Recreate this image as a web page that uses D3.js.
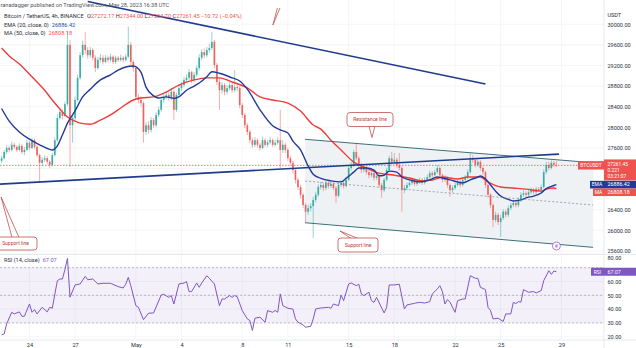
<!DOCTYPE html>
<html>
<head>
<meta charset="utf-8">
<script src="https://cdn.jsdelivr.net/npm/d3@7"></script>
<style>
  html, body { margin: 0; padding: 0; background: #fff; }
  svg { display: block; font-family: Roboto, "Open Sans", sans-serif; }
</style>
</head>
<body>
<svg id="chart" width="636" height="348"></svg>
<script>
// ---------- BTC/USDT 4h bars (first bar opens 22 Apr 2023 04:00 UTC) ----------
const barStart = Date.UTC(2023, 3, 22, 4);
const barMs = 4 * 3600 * 1000;
const firstOpen = 27350;

const closes = [
  27400,27520,27600,27560,27660,27620,27560,27640,27520,27560,
  27700,27600,27750,27620,27460,27310,27370,27400,27330,27270,
  27460,27750,28180,28300,28220,28450,29600,28040,28180,28530,
  28960,29400,29600,29500,29400,29500,29350,29150,29310,29350,
  29270,29350,29310,29370,29270,29350,29310,29350,29310,29370,
  29600,29270,29150,28590,28530,28470,27910,28040,27950,28140,
  28040,28240,28340,28530,28590,28630,28570,28690,28340,28630,
  28760,28820,28920,28960,29070,28920,29020,29150,29350,29460,
  29400,29500,29540,29660,29210,28880,28720,28820,28690,28760,
  28820,28720,28780,28760,28430,28240,28040,27910,27750,27660,
  27750,27660,27600,27750,27660,27710,27750,27660,27700,27750,
  27560,27660,27560,27400,27310,27170,26980,26840,26690,26490,
  26360,26430,26470,26590,26690,26840,26880,26820,26920,26860,
  26900,26820,26670,26880,26920,26860,26980,27210,27270,27520,
  27400,27270,27170,27210,27130,27070,27110,27020,27050,26880,
  26780,26980,27170,27400,27330,27370,27270,27210,26780,26820,
  26880,26920,26980,26900,26940,26980,26920,26980,27030,27110,
  27070,27130,27210,27070,26980,27020,26880,26780,26820,26880,
  26940,26880,26980,27020,27130,27400,27370,27270,27330,27210,
  27130,26880,26690,26490,26200,26300,26160,26240,26360,26300,
  26430,26490,26530,26490,26590,26690,26720,26690,26740,26780,
  26740,26800,26780,26840,27130,27270,27210,27310,27272.17,27261.45
];
const highs = [
  27450,27560,27650,27640,27720,27700,27650,27690,27680,27620,
  27760,27730,27800,27780,27650,27490,27420,27460,27440,27360,
  27500,27800,28250,28380,28350,28500,29870,29700,28260,28600,
  29020,29460,29680,29850,29560,29560,29540,29400,29370,29420,
  29400,29400,29390,29430,29400,29390,29380,29410,29380,29420,
  29960,29660,29300,29180,28650,28600,28500,28100,28120,28200,
  28180,28290,28400,28600,28660,28700,28680,28760,28720,28680,
  28840,28880,28980,29030,29130,29100,29080,29200,29420,29520,
  29530,29560,29620,29850,29700,29250,28950,28880,28860,28820,
  28880,28860,29110,28830,28800,28470,28280,28080,27950,27790,
  27810,27790,27700,27820,27790,27760,27820,27780,27760,27800,
  28340,27750,27700,27600,27450,27350,27200,27020,26880,26730,
  26530,26500,26530,26650,26750,26890,26940,26920,26970,26960,
  26950,26940,26860,26930,26980,26960,27040,27260,27330,27560,
  27700,27440,27310,27270,27250,27170,27160,27150,27100,27080,
  26920,27020,27220,27450,27520,27500,27410,27500,27250,26880,
  26930,26970,27030,27010,26990,27020,27010,27030,27080,27160,
  27150,27180,27270,27240,27100,27070,27050,26910,26870,26930,
  26990,26970,27030,27070,27180,27500,27460,27400,27380,27360,
  27240,27160,26910,26720,26520,26360,26340,26300,26410,26400,
  26480,26540,26580,26570,26640,26740,26780,26760,26790,26830,
  26820,26850,26840,26890,27180,27330,27330,27360,27350,27344.00
];
const lows = [
  27300,27370,27480,27510,27530,27580,27520,27530,27480,27460,
  27540,27560,27580,27580,27420,26940,27250,27330,27280,27210,
  27240,27430,27720,28150,28150,28200,28420,27230,27700,28120,
  28500,28920,29350,29420,29330,29350,29300,29070,29120,29260,
  29220,29240,29260,29280,29230,29230,29270,29280,29260,29280,
  29340,29200,29080,28530,28470,28400,27700,27850,27880,27900,
  27990,28000,28200,28300,28480,28540,28520,28530,28140,28300,
  28600,28700,28780,28870,28920,28850,28880,28980,29100,29300,
  29340,29360,29450,29500,29150,28820,28340,28650,28620,28640,
  28720,28670,28680,28700,28370,28180,27980,27850,27690,27600,
  27620,27610,27550,27570,27620,27610,27670,27620,27630,27660,
  27210,27500,27500,27350,27260,27100,26910,26780,26620,26430,
  26140,26300,26370,25850,26540,26650,26790,26760,26780,26810,
  26820,26780,26530,26640,26840,26810,26830,26950,27160,27230,
  27360,27220,27110,27120,27080,27010,27030,26970,26980,26830,
  26630,26740,26950,27130,27280,27290,27220,27160,26360,26720,
  26770,26840,26880,26860,26860,26900,26880,26890,26950,27000,
  27020,27040,27100,27020,26930,26940,26830,26650,26730,26790,
  26850,26830,26850,26940,26990,27100,27310,27220,27230,27160,
  27070,26830,26630,26430,26060,26150,26100,25870,26200,26250,
  26260,26390,26450,26440,26450,26550,26650,26640,26650,26700,
  26700,26700,26740,26740,26810,27090,27160,27180,27230,27224.70
];

// EMA(20) and MA(50) read at bar positions
const emaBars = [0,3,7,11,15,19,20,22,24,26,29,32,35,39,43,46,49,52,55,57,
  60,62,65,68,70,73,76,78,81,83,86,91,94,97,102,107,110,113,115,118,
  121,123,126,130,134,136,139,141,144,147,149,151,153,156,158,161,165,169,172,174,
  177,180,182,185,188,189,191,193,195,197,200,202,205,207,210,213,215,218,219];
const emaValues = [28365,28120,27910,27770,27660,27570,27560,27640,27850,28080,
  28320,28590,28740,28920,29020,29110,29170,29190,29070,28780,
  28610,28570,28590,28560,28590,28720,28800,28860,28980,29080,
  29050,28960,28900,28740,28340,28030,27950,27890,27730,27560,
  27250,27090,27010,26960,26940,27010,27130,27210,27210,27170,
  27060,27070,27150,27130,27035,26980,26940,26980,27035,27015,
  26980,26940,26920,26980,27035,27055,26995,26880,26760,26665,
  26600,26570,26590,26630,26665,26725,26810,26870,26886.42];
const maBars = [0,3,7,12,17,20,23,26,29,31,35,39,43,47,52,55,60,65,70,76,
  81,86,91,97,102,107,113,118,123,126,130,134,139,144,149,155,161,166,170,174,
  180,184,189,192,197,202,207,213,215,218,219];
const maValues = [29540,29385,29230,28980,28720,28530,28355,28200,28120,28080,
  28060,28140,28240,28375,28530,28570,28590,28685,28820,28920,
  28960,28960,28880,28765,28590,28530,28470,28315,28045,27965,
  27750,27560,27325,27210,27110,27070,27015,26960,26975,27035,
  26995,27035,27035,26940,26840,26820,26800,26760,26800,26820,26808.18];

// RSI(14)
const rsiBars = [0,1,2,4,5,7,8,9,11,12,13,14,16,18,19,20,22,23,24,25,
  26,27,29,31,33,34,36,38,40,43,46,48,49,50,51,53,54,56,58,60,
  63,64,66,67,68,70,72,73,74,75,77,78,79,81,82,84,86,87,88,90,
  91,92,93,95,97,98,99,100,102,104,105,107,108,109,110,111,113,115,116,117,
  119,120,122,123,124,126,129,130,131,133,134,135,137,138,140,141,142,143,145,146,
  147,148,151,152,153,155,157,159,160,163,165,167,169,170,172,173,174,175,176,177,
  179,180,182,183,185,187,188,189,191,192,193,194,196,198,199,201,202,203,204,205,
  206,208,210,211,213,214,216,217,218,219];
const rsiValues = [21.3,22,29.3,37.7,36.5,38,34.8,34.8,43.7,37.7,
  39.6,36.5,41.3,38,41.3,40.6,60.6,61.8,61.8,68.6,
  76.7,48.6,57.5,58.2,63.7,61.3,61.8,58.2,58.7,58.7,
  56.3,55.3,58,63,57,42.5,41.3,32.4,37,37.2,
  50.2,50.7,48.5,49.8,43.7,58.2,58.9,59.9,52.7,52.7,
  58.9,55.8,58.9,64.2,62.3,58.2,42.5,47.3,47.3,49.8,
  48.5,49.8,49,38.9,32.9,31.7,24.5,33.4,34.1,30.5,
  38.9,37.7,39,37.7,51,42.5,40.6,40,32.9,30.5,
  28.5,26.9,27.5,32.9,40.1,40.8,41.3,40.6,43.7,42.5,
  50.2,46.1,58.2,58.9,57,58,51,49.8,52.2,46.1,
  44.9,48.5,37.2,41.3,57.5,57.5,58,40.1,43,44.2,
  44.9,44.4,45.4,51,54.6,57,52.7,43.7,46.9,45,
  37.7,46.1,47.3,47.3,64.2,62.3,62.3,55.8,54.1,41.3,
  38.9,32.9,33.4,31,36.5,36.5,44.9,44,45.4,45,
  54.1,52.2,52.7,51.7,53.4,60.6,67.8,65.2,67.6,67.07];

// axis ticks
const priceTicks = [25600,26000,26400,26800,27200,27600,28000,28400,28800,29200,29600,30000];
const priceLabels = [25600,26000,26400,27600,28000,28400,28800,29200,29600,30000];
const rsiTicks = [20,30,40,50,60,70,80];
const rsiLabels = [20,30,40,50,60,80];
const rsiGuides = [70,50,30];
const dateTicks = [Date.UTC(2023,3,24),Date.UTC(2023,3,27),Date.UTC(2023,4,1),Date.UTC(2023,4,4),
  Date.UTC(2023,4,8),Date.UTC(2023,4,11),Date.UTC(2023,4,15),Date.UTC(2023,4,18),
  Date.UTC(2023,4,22),Date.UTC(2023,4,25),Date.UTC(2023,4,29)];
const dateLabels = ["24","27","May","4","8","11","15","18","22","25","29"];

// drawings: [bar, price]
const resistanceLine = [[34,30443],[191,28841]];
const supportLine = [[-1,26895],[220,27480]];
const channelTop = [[119.8,27767],[233.5,27312]];
const channelBottom = [[119.8,26147],[233.5,25669]];
const lastPrice = 27261.45;
const emaLast = 26886.42, maLast = 26808.18, rsiLast = 67.07;

// ---------- layout ----------
const plotRight = 604, mainBottom = 254.5, rsiBottom = 340;
const UP = "#26a69a", DOWN = "#ef5350";
const svg = d3.select("#chart");

const tx = d3.scaleTime()
  .domain([new Date(barStart), new Date(barStart + 219 * barMs)])
  .range([1.6, 556.4]);
const xb = i => tx(new Date(barStart + i * barMs));
const y = d3.scaleLinear().domain([25600, 30000]).range([250.9, 24.3]);
const yr = d3.scaleLinear().domain([20, 80]).range([336.7, 253.9]);

const defs = svg.append("defs");
defs.append("clipPath").attr("id", "mainClip").append("rect")
  .attr("x", 0).attr("y", 0).attr("width", plotRight).attr("height", mainBottom);
defs.append("clipPath").attr("id", "rsiClip").append("rect")
  .attr("x", 0).attr("y", mainBottom).attr("width", plotRight).attr("height", rsiBottom - mainBottom);

// grid
const grid = svg.append("g").attr("stroke", "#f0f2f6").attr("stroke-width", 0.7);
grid.selectAll("line.v").data(dateTicks).join("line")
  .attr("x1", d => tx(new Date(d))).attr("x2", d => tx(new Date(d)))
  .attr("y1", 0).attr("y2", rsiBottom);
grid.selectAll("line.h").data(priceTicks).join("line")
  .attr("x1", 0).attr("x2", plotRight).attr("y1", d => y(d)).attr("y2", d => y(d));
grid.selectAll("line.r").data(rsiTicks).join("line")
  .attr("x1", 0).attr("x2", plotRight).attr("y1", d => yr(d)).attr("y2", d => yr(d));

// ---------- price pane ----------
const main = svg.append("g").attr("clip-path", "url(#mainClip)");

// channel fill
const pt = p => [xb(p[0]), y(p[1])];
main.append("path")
  .attr("d", d3.line()([pt(channelTop[0]), pt(channelTop[1]), pt(channelBottom[1]), pt(channelBottom[0])]) + "Z")
  .attr("fill", "#e9edf2").attr("fill-opacity", 0.75);

// last price line
main.append("line").attr("x1", 0).attr("x2", plotRight)
  .attr("y1", y(lastPrice)).attr("y2", y(lastPrice))
  .attr("stroke", DOWN).attr("stroke-width", 0.8).attr("stroke-dasharray", "1.5,1.5");

// candles
const bars = closes.map((c, i) => ({ i, o: i ? closes[i - 1] : firstOpen, h: highs[i], l: lows[i], c }));
const cg = main.append("g");
cg.selectAll("line").data(bars).join("line")
  .attr("x1", d => xb(d.i)).attr("x2", d => xb(d.i))
  .attr("y1", d => y(d.h)).attr("y2", d => y(d.l))
  .attr("stroke", d => d.c >= d.o ? UP : DOWN).attr("stroke-width", 0.6).attr("stroke-opacity", 0.8);
cg.selectAll("rect").data(bars).join("rect")
  .attr("x", d => xb(d.i) - 0.85).attr("width", 1.7)
  .attr("y", d => y(Math.max(d.o, d.c)))
  .attr("height", d => Math.max(0.7, Math.abs(y(d.o) - y(d.c))))
  .attr("fill", d => d.c >= d.o ? UP : DOWN).attr("fill-opacity", 0.85);

// moving averages
const smooth = d3.line().curve(d3.curveMonotoneX);
main.append("path")
  .attr("d", smooth(maBars.map((b, k) => [xb(b), y(maValues[k])])))
  .attr("fill", "none").attr("stroke", "#ee3b3b").attr("stroke-width", 1.4);
main.append("path")
  .attr("d", smooth(emaBars.map((b, k) => [xb(b), y(emaValues[k])])))
  .attr("fill", "none").attr("stroke", "#23399a").attr("stroke-width", 1.4);

// channel and trend lines
const seg = s => d3.line()(s.map(pt));
main.append("path").attr("d", seg(channelTop)).attr("stroke", "#3b7179").attr("stroke-width", 1).attr("fill", "none");
main.append("path").attr("d", seg(channelBottom)).attr("stroke", "#3b7179").attr("stroke-width", 1).attr("fill", "none");
const mid = [0, 1].map(k => [channelTop[k][0], (channelTop[k][1] + channelBottom[k][1]) / 2]);
main.append("path").attr("d", seg(mid)).attr("stroke", "#8d929c").attr("stroke-width", 0.8)
  .attr("stroke-dasharray", "2,2").attr("fill", "none");
main.append("path").attr("d", seg(resistanceLine)).attr("stroke", "#1f3b8c").attr("stroke-width", 1.6).attr("fill", "none");
main.append("path").attr("d", seg(supportLine)).attr("stroke", "#1f3b8c").attr("stroke-width", 1.6).attr("fill", "none");

// callouts
const CALL = "#c0504d";
function callout(bx, by, bw, bh, label, wedge) {
  const g = main.append("g");
  g.append("path").attr("d", d3.line()(wedge) + "Z")
    .attr("fill", "#fff").attr("stroke", CALL).attr("stroke-width", 0.8);
  g.append("rect").attr("x", bx).attr("y", by).attr("width", bw).attr("height", bh)
    .attr("rx", 3).attr("fill", "#fff").attr("stroke", CALL).attr("stroke-width", 0.8);
  g.append("text").attr("x", bx + bw / 2).attr("y", by + bh / 2 + 1.8)
    .attr("text-anchor", "middle").attr("font-size", 5).attr("fill", "#b23c3c").text(label);
}
const rTip = [xb(146.2), y(27802)];
callout(347, 112.5, 46, 14, "Resistance line", [[rTip[0] - 3, 126], rTip, [rTip[0] + 3, 126]]);
const sTip = [xb(133.6), y(25986)];
callout(338, 238, 40, 14, "Support line", [[351, 238.5], sTip, [358, 238.5]]);
const lTip = [xb(-0.2), y(26646)];
callout(-6, 237, 43, 13, "Support line", [[12, 237.5], lTip, [19, 237.5]]);
const tTip = [xb(107.1), y(29986)];
main.append("path").attr("d", d3.line()([[tTip[0] + 4.5, 8], tTip, [tTip[0] + 7, 8]]))
  .attr("fill", "none").attr("stroke", CALL).attr("stroke-width", 0.8);

// idea marker
const mk = main.append("g").attr("transform", `translate(${xb(219)},${y(25695)})`);
mk.append("circle").attr("r", 4).attr("fill", "#fff").attr("stroke", "#a561d8").attr("stroke-width", 0.8);
mk.append("text").attr("y", 1.8).attr("text-anchor", "middle").attr("font-size", 5).attr("fill", "#a561d8").text("#");

// ---------- RSI pane ----------
const rsi = svg.append("g").attr("clip-path", "url(#rsiClip)");
rsi.append("rect").attr("x", 0).attr("width", plotRight)
  .attr("y", yr(70)).attr("height", yr(30) - yr(70)).attr("fill", "#7e57c2").attr("fill-opacity", 0.09);
rsi.selectAll("line.g").data(rsiGuides).join("line")
  .attr("x1", 0).attr("x2", plotRight).attr("y1", d => yr(d)).attr("y2", d => yr(d))
  .attr("stroke", "#9598a1").attr("stroke-width", 0.6).attr("stroke-dasharray", "2,2");
rsi.append("path")
  .attr("d", d3.line()(rsiBars.map((b, k) => [xb(b), yr(rsiValues[k])])))
  .attr("fill", "none").attr("stroke", "#7e57c2").attr("stroke-width", 1);

// pane borders
svg.append("line").attr("x1", 0).attr("x2", 636).attr("y1", mainBottom).attr("y2", mainBottom).attr("stroke", "#e0e3eb").attr("stroke-width", 0.8);
svg.append("line").attr("x1", 0).attr("x2", 636).attr("y1", rsiBottom).attr("y2", rsiBottom).attr("stroke", "#e0e3eb").attr("stroke-width", 0.8);
svg.append("line").attr("x1", plotRight).attr("x2", plotRight).attr("y1", 0).attr("y2", 348).attr("stroke", "#e0e3eb").attr("stroke-width", 0.8);

// ---------- axes ----------
const axisStyle = g => {
  g.select(".domain").remove();
  g.selectAll("line").remove();
  g.selectAll("text").attr("fill", "#2a2e39").attr("font-family", "Roboto, sans-serif");
};
svg.append("g").attr("transform", `translate(${plotRight},0)`)
  .call(d3.axisRight(y).tickValues(priceLabels).tickFormat(d => d.toFixed(2)).tickSize(0).tickPadding(3.5))
  .call(axisStyle).selectAll("text").attr("font-size", 5.5);
const rsiAxis = svg.append("g").attr("transform", `translate(${plotRight},0)`)
  .call(d3.axisRight(yr).tickValues(rsiLabels).tickFormat(d => d.toFixed(2)).tickSize(0).tickPadding(3.5))
  .call(axisStyle);
rsiAxis.selectAll("text").attr("font-size", 5.5);
// the top RSI label sits just under the price scale's last label
rsiAxis.selectAll(".tick").filter(d => d === 80).select("text").attr("dy", "0.95em");
svg.append("g").attr("transform", `translate(0,${rsiBottom})`)
  .call(d3.axisBottom(tx).tickValues(dateTicks.map(d => new Date(d))).tickFormat((d, i) => dateLabels[i]).tickSize(0).tickPadding(2.6))
  .call(axisStyle).selectAll("text").attr("font-size", 5.6);
svg.append("text").attr("x", 607.5).attr("y", 17).attr("font-size", 5.5).attr("fill", "#2a2e39").text("USDT");

// value tags on the price scale
function tag(yc, h, fill, lines, side, step) {
  const g = svg.append("g");
  g.append("rect").attr("x", plotRight).attr("y", yc - h / 2).attr("width", 32).attr("height", h).attr("fill", fill);
  lines.forEach((t, k) => g.append("text").attr("x", plotRight + 3.5)
    .attr("y", yc + 1.8 - (lines.length - 1) * step / 2 + k * step)
    .attr("font-size", lines.length > 1 ? 4.9 : 5.3).attr("fill", "#fff").text(t));
  if (side) {
    g.append("rect").attr("x", plotRight - side.w).attr("y", yc - side.h / 2).attr("width", side.w).attr("height", side.h).attr("fill", fill);
    g.append("text").attr("x", plotRight - side.w / 2).attr("y", yc + 1.8).attr("text-anchor", "middle")
      .attr("font-size", 5).attr("fill", "#fff").text(side.label);
  }
}
const lp = y(lastPrice);
tag(lp + 4.6, 21, "#ef5350", ["27261.45", "0.221", "03:21:07"], null, 6.2);
svg.append("rect").attr("x", 578).attr("y", lp - 4.2).attr("width", 26).attr("height", 8.4).attr("fill", "#ef5350");
svg.append("text").attr("x", 591).attr("y", lp + 1.8).attr("text-anchor", "middle").attr("font-size", 5).attr("fill", "#fff").text("BTCUSDT");
tag(y(emaLast), 7.6, "#1f3b99", [d3.format(".2f")(emaLast)], { w: 14, h: 7.6, label: "EMA" }, 0);
tag(y(emaLast) + 7.6, 7.6, "#ef5350", [d3.format(".2f")(maLast)], { w: 11, h: 7.6, label: "MA" }, 0);
tag(yr(rsiLast), 8, "#7e57c2", [d3.format(".2f")(rsiLast)], { w: 13, h: 8, label: "RSI" }, 0);

// ---------- legend ----------
const leg = svg.append("g").attr("font-size", 5.6).attr("fill", "#2a2e39");
leg.append("text").attr("x", 0.5).attr("y", 7).attr("fill", "#50535e")
  .text("ranadagger published on TradingView.com, May 28, 2023 16:38 UTC");
const l2 = leg.append("text").attr("x", 4).attr("y", 18);
l2.append("tspan").text("Bitcoin / TetherUS, 4h, BINANCE");
const ohlc = [["O", "27272.17"], ["H", "27344.00"], ["L", "27224.70"], ["C", "27261.45"]];
const l2b = leg.append("text").attr("x", 87).attr("y", 18);
ohlc.forEach(([k, v], n) => {
  l2b.append("tspan").text((n ? " " : "") + k);
  l2b.append("tspan").attr("fill", "#ef5350").text(v);
});
l2b.append("tspan").attr("fill", "#ef5350").text(" \u221210.72 (\u22120.04%)");
const l3 = leg.append("text").attr("x", 4).attr("y", 26.5);
l3.append("tspan").text("EMA (20, close, 0)");
l3.append("tspan").attr("dx", 3).attr("fill", "#2a4bb0").text(d3.format(".2f")(emaLast));
const l4 = leg.append("text").attr("x", 4).attr("y", 35);
l4.append("tspan").text("MA (50, close, 0)");
l4.append("tspan").attr("dx", 3).attr("fill", "#ef5350").text(d3.format(".2f")(maLast));
const l5 = leg.append("text").attr("x", 4).attr("y", 261.5);
l5.append("tspan").text("RSI (14, close)");
l5.append("tspan").attr("dx", 3).attr("fill", "#7e57c2").text(d3.format(".2f")(rsiLast));
</script>
</body>
</html>
